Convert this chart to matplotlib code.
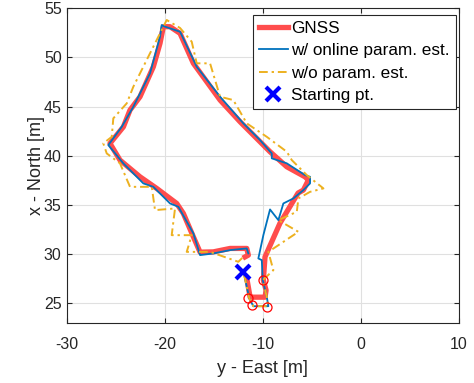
import numpy as np
import matplotlib
matplotlib.use("Agg")
import matplotlib.pyplot as plt

# trajectories, [East, North] in metres
gnss_east = [-11.63, -11.29, -11.09, -9.77, -9.66, -9.94, -9.77, -8.24, -6.4, -5.86,
             -5.35, -5.69, -7.55, -9.26, -10.28, -12.31, -14.35, -17.07, -18.43, -19.45,
             -20.13, -20.47, -21.15, -22.51, -23.53, -24.2, -25.57, -24.55, -22.51, -20.81,
             -18.77, -18.09, -17.07, -16.39, -15.04, -13.33, -11.63, -11.47, -11.8]
gnss_north = [27.54, 25.6, 25.6, 25.6, 26.3, 27.33, 29.7, 33.14, 36.2, 36.5,
              37.52, 37.85, 38.87, 40.4, 41.42, 43.45, 45.66, 49.4, 52.45, 53.13,
              53.13, 51.44, 49.05, 46.0, 44.64, 42.94, 41.25, 39.55, 37.85, 36.67,
              35.14, 34.12, 31.74, 30.18, 30.21, 30.56, 30.56, 29.88, 29.7]

online_east = [-11.9, -11.37, -10.96, -9.43, -9.59, -10.0, -10.1, -10.45, -9.94, -9.26,
               -8.41, -7.9, -6.88, -5.86, -5.18, -5.18, -5.69, -7.55, -9.08, -9.08,
               -10.28, -11.98, -14.35, -16.73, -18.43, -19.96, -20.3, -20.47, -21.49, -23.19,
               -24.37, -25.74, -24.21, -22.17, -21.15, -19.45, -18.6, -17.07, -16.39, -15.04,
               -13.33, -11.63, -11.47]
online_north = [27.9, 25.47, 24.68, 24.68, 25.63, 27.33, 29.37, 29.54, 31.91, 34.53,
                33.44, 35.14, 35.65, 36.5, 37.18, 37.85, 38.02, 39.22, 39.73, 40.23,
                41.59, 43.29, 46.0, 49.05, 52.62, 53.13, 53.3, 52.11, 48.38, 44.98,
                42.94, 41.08, 39.22, 37.18, 36.83, 35.14, 34.8, 32.09, 29.88, 30.05,
                30.39, 30.56, 30.05]

noest_east = [-11.9, -11.37, -10.96, -9.43, -9.59, -10.0, -8.92, -9.43, -6.37, -8.41,
              -6.53, -6.37, -5.18, -3.82, -5.51, -7.04, -7.55, -9.59, -11.63, -13.0,
              -14.35, -15.37, -16.73, -17.24, -18.43, -19.79, -21.49, -23.19, -23.86, -25.23,
              -25.39, -26.25, -25.9, -24.55, -23.53, -21.31, -20.98, -18.94, -19.28, -17.24,
              -17.75, -15.37, -12.49, -11.8]
noest_north = [27.9, 25.47, 24.68, 24.68, 25.63, 27.33, 28.35, 30.21, 32.25, 33.44,
               34.29, 35.65, 36.32, 36.67, 38.02, 39.55, 40.4, 41.92, 43.29, 45.66,
               46.0, 49.4, 49.4, 51.6, 53.0, 53.81, 50.42, 47.02, 45.33, 43.8,
               41.92, 41.25, 40.23, 39.22, 36.83, 36.83, 34.46, 34.63, 31.91, 31.91,
               30.21, 30.21, 29.2, 29.88]

circle_east = [-9.94, -11.47, -11.12, -9.53]
circle_north = [27.33, 25.47, 24.79, 24.61]

start_east = [-12.0]
start_north = [28.15]

plt.rcParams['font.family'] = ['Liberation Sans', 'DejaVu Sans']
plt.rcParams['axes.unicode_minus'] = False

fig = plt.figure(figsize=(4.74, 3.83), dpi=100)
ax = fig.add_axes([0.1403, 0.1574, 0.8281, 0.8209])

ax.plot(gnss_east, gnss_north, color='#ff4d4d', lw=3.8, label='GNSS',
        solid_joinstyle='round', zorder=3)
ax.plot(online_east, online_north, color='#0072bd', lw=1.3,
        label='w/ online param. est.', zorder=4)
ax.plot(noest_east, noest_north, color='#edb120', lw=1.4,
        ls=(0, (4.5, 2, 1.2, 2)), label='w/o param. est.', zorder=4)
ax.plot(circle_east, circle_north, ls='none', marker='o', ms=6.5, mfc='none',
        mec='red', mew=0.9, zorder=5)
ax.plot(start_east, start_north, ls='none', marker='x', ms=10, mew=3,
        color='blue', label='Starting pt.', zorder=6)

ax.set_xlim(-30, 10)
ax.set_ylim(23, 55)
ax.set_xticks([-30, -20, -10, 0, 10])
ax.set_yticks([25, 30, 35, 40, 45, 50, 55])
ax.grid(True, color='#e0e0e0', lw=0.8)
ax.set_axisbelow(True)
ax.tick_params(direction='in', top=True, right=True, labelsize=11.5,
               colors='#262626', length=3.5)
ax.tick_params(axis='x', pad=10)
for s in ax.spines.values():
    s.set_color('#262626')
    s.set_linewidth(0.8)

ax.set_xlabel('y - East [m]', fontsize=13, color='#262626', labelpad=6)
ax.set_ylabel('x - North [m]', fontsize=13, color='#262626', labelpad=-1)

leg = ax.legend(loc='upper right', bbox_to_anchor=(0.992, 0.978), fontsize=12.3,
                fancybox=False, framealpha=1, edgecolor='#262626',
                handlelength=1.7, handletextpad=0.2, borderpad=0.35,
                labelspacing=0.42, borderaxespad=0)
leg.get_frame().set_linewidth(0.8)

fig.savefig('out.png', dpi=100)
